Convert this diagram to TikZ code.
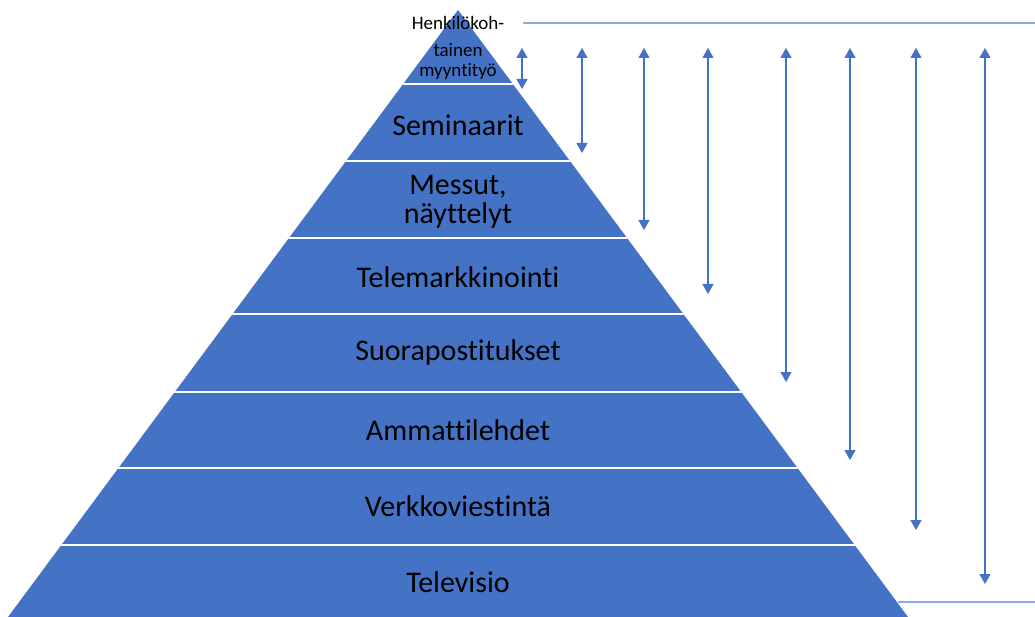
\documentclass[tikz,border=0pt]{standalone}
\usepackage{fontspec}
\setmainfont{Carlito}[Ligatures={NoCommon}]
\usetikzlibrary{arrows.meta, positioning, calc}
\definecolor{pyrblue}{HTML}{4472C4}
\definecolor{lineblue}{HTML}{8FAADC}

\begin{document}
\begin{tikzpicture}[x=1pt, y=-1pt,
  band/.style={font=\fontsize{30}{29}\selectfont, align=center, text=black},
  small/.style={font=\fontsize{19}{20}\selectfont, align=center, text=black},
  span/.style={draw=pyrblue, line width=1.2pt, {Triangle[width=11pt,length=10pt]}-{Triangle[width=11pt,length=10pt]}},
  edge/.style={draw=lineblue, line width=1.2pt}]
\useasboundingbox (0,0) rectangle (1035,617);

% Pyramid
\coordinate (apex) at (458,10);
\coordinate (bl) at (8,617);
\coordinate (br) at (908,617);
\fill[pyrblue] (apex) -- (bl) -- (br) -- cycle;

% White band separators
\begin{scope}
\clip (apex) -- (bl) -- (br) -- cycle;
\foreach \y in {84,161,238,314,392,468,545}
  \draw[white, line width=2pt] (0,\y) -- (1035,\y);
\end{scope}

% Level labels
\node[small] (henk) at (458,23) {Henkilökoh-};
\node[small] (myynti) at (458,61) {tainen\\myyntityö};
\node[band] (semi) at (458,125) {Seminaarit};
\node[band] (messut) at (458,202) {Messut,\\näyttelyt};
\node[band] (tele) at (458,277) {Telemarkkinointi};
\node[band] (suora) at (458,353) {Suorapostitukset};
\node[band] (ammatti) at (458,430) {Ammattilehdet};
\node[band] (verkko) at (458,506) {Verkkoviestintä};
\node[band] (tv) at (458,582) {Televisio};

% Reference lines
\coordinate (topl) at (523,23);
\coordinate (topr) at (1035,23);
\coordinate (botl) at (898,602);
\coordinate (botr) at (1035,602);
\draw[edge] (topl) -- (topr);
\draw[edge] (botl) -- (botr);

% Reach arrows
\foreach \x/\y [count=\i] in {522/89, 582/153, 644/230, 708/294, 786/382, 850/460, 916/530, 985/584} {
  \coordinate (up\i) at (\x,48);
  \coordinate (dn\i) at (\x,\y);
  \draw[span] (up\i) -- (dn\i);
}
\end{tikzpicture}
\end{document}
